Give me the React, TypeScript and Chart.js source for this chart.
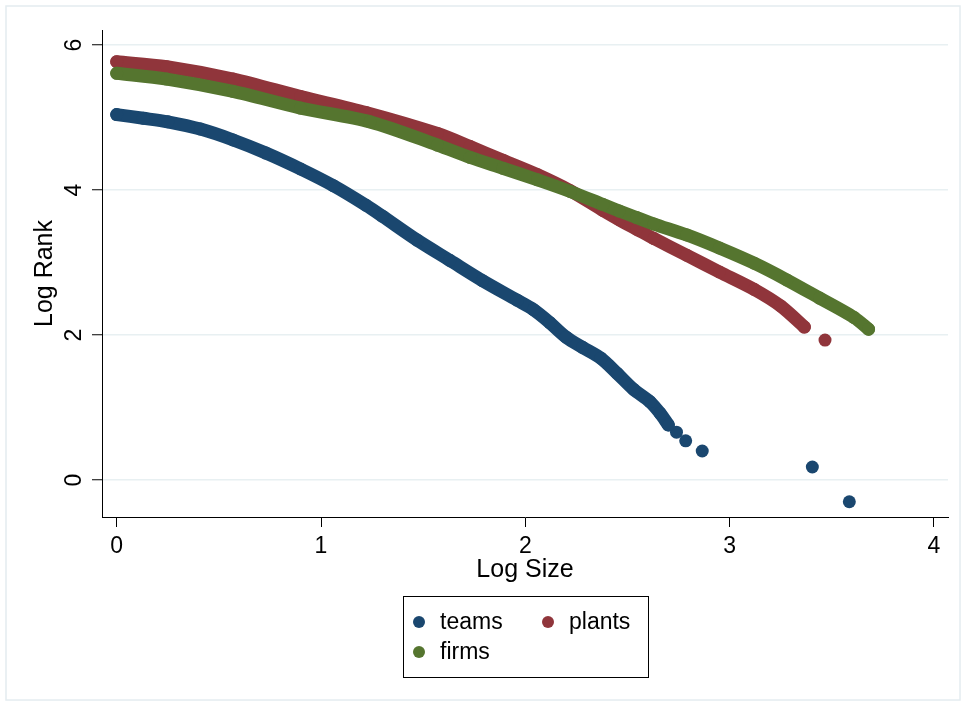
import React, { useEffect, useRef } from "react";
import { Chart, registerables } from "chart.js";

Chart.register(...registerables);

// ---- data ----
const xTicks = [0, 1, 2, 3, 4];
const yTicks = [0, 2, 4, 6];
const xTitle = "Log Size";
const yTitle = "Log Rank";

const seriesNames = ["teams", "plants", "firms"];
const seriesColors = ["#1a476f", "#90353b", "#55752f"];

const teamsX = [0.0, 0.13, 0.25, 0.41, 0.57, 0.73, 0.9, 1.06, 1.22, 1.3, 1.47, 1.63, 1.79, 1.96, 2.04, 2.12, 2.2, 2.28, 2.37, 2.45, 2.53, 2.61, 2.66, 2.7];
const teamsY = [5.04, 4.99, 4.94, 4.84, 4.69, 4.51, 4.29, 4.06, 3.79, 3.64, 3.31, 3.03, 2.75, 2.48, 2.35, 2.17, 1.97, 1.83, 1.68, 1.47, 1.25, 1.08, 0.92, 0.76];
const teamsTailX = [2.74, 2.785, 2.866, 3.405, 3.586];
const teamsTailY = [0.66, 0.54, 0.4, 0.18, -0.3];

const plantsX = [0.0, 0.245, 0.57, 0.9, 1.22, 1.57, 1.73, 1.89, 2.06, 2.22, 2.38, 2.46, 2.545, 2.63, 2.79, 2.95, 3.12, 3.25, 3.366];
const plantsY = [5.77, 5.7, 5.53, 5.29, 5.07, 4.78, 4.6, 4.41, 4.21, 3.99, 3.72, 3.59, 3.46, 3.33, 3.1, 2.87, 2.63, 2.4, 2.11];
const plantsTailX = [3.467];
const plantsTailY = [1.93];

const firmsX = [0.0, 0.245, 0.57, 0.9, 1.24, 1.57, 1.73, 1.89, 2.06, 2.22, 2.38, 2.46, 2.545, 2.63, 2.79, 2.95, 3.12, 3.28, 3.44, 3.61, 3.68];
const firmsY = [5.61, 5.53, 5.36, 5.13, 4.94, 4.62, 4.45, 4.3, 4.14, 3.98, 3.8, 3.71, 3.62, 3.53, 3.38, 3.2, 2.99, 2.76, 2.51, 2.24, 2.08];

const FONT = "'Liberation Sans', Arial, Helvetica, sans-serif";
const FSIZE = 23;
const TSIZE = 25;

function pts(xs: number[], ys: number[]) {
  return xs.map((x, i) => ({ x, y: ys[i] }));
}

function lineSet(label: string, color: string, xs: number[], ys: number[], order: number) {
  return {
    label,
    data: pts(xs, ys),
    showLine: true,
    borderColor: color,
    backgroundColor: color,
    borderWidth: 13,
    borderCapStyle: "round",
    borderJoinStyle: "round",
    tension: 0.3,
    pointRadius: 6.5,
    pointBorderWidth: 0,
    pointBackgroundColor: color,
    pointHoverRadius: 6.5,
    order,
  };
}

function dotSet(label: string, color: string, xs: number[], ys: number[], order: number) {
  return {
    label,
    data: pts(xs, ys),
    showLine: false,
    borderColor: color,
    backgroundColor: color,
    pointRadius: 6.5,
    pointBorderWidth: 0,
    pointBackgroundColor: color,
    order,
  };
}

const framePlugin = {
  id: "frameAndLegend",
  beforeDraw(chart: any) {
    const ctx = chart.ctx;
    ctx.save();
    ctx.fillStyle = "#ffffff";
    ctx.fillRect(0, 0, chart.width, chart.height);
    ctx.strokeStyle = "#e4ecf0";
    ctx.lineWidth = 1.5;
    ctx.strokeRect(6, 6, chart.width - 12, chart.height - 12);
    ctx.restore();
  },
  afterDraw(chart: any) {
    const ctx = chart.ctx;
    ctx.save();
    const bx = 403, by = 596, bw = 245, bh = 81;
    ctx.strokeStyle = "#000";
    ctx.lineWidth = 1;
    ctx.strokeRect(bx + 0.5, by + 0.5, bw, bh);
    const slots = [
      { mx: 419, my: 622 },
      { mx: 548, my: 622 },
      { mx: 419, my: 652 },
    ];
    ctx.font = `${FSIZE}px ${FONT}`;
    ctx.textBaseline = "middle";
    ctx.textAlign = "left";
    seriesNames.forEach((name, i) => {
      const s = slots[i];
      ctx.fillStyle = seriesColors[i];
      ctx.beginPath();
      ctx.arc(s.mx, s.my, 6, 0, Math.PI * 2);
      ctx.fill();
      ctx.fillStyle = "#000";
      ctx.fillText(name, s.mx + 21, s.my + 1);
    });
    ctx.restore();
  },
};

export default function App() {
  const ref = useRef<HTMLCanvasElement | null>(null);
  useEffect(() => {
    if (!ref.current) return;
    const font = { family: FONT, size: FSIZE };
    const tfont = { family: FONT, size: TSIZE };
    const chart = new Chart(ref.current, {
      type: "scatter",
      data: {
        datasets: [
          lineSet(seriesNames[0], seriesColors[0], teamsX, teamsY, 2),
          dotSet(seriesNames[0] + "_tail", seriesColors[0], teamsTailX, teamsTailY, 2),
          lineSet(seriesNames[1], seriesColors[1], plantsX, plantsY, 1),
          dotSet(seriesNames[1] + "_tail", seriesColors[1], plantsTailX, plantsTailY, 1),
          lineSet(seriesNames[2], seriesColors[2], firmsX, firmsY, 0),
        ] as any,
      },
      options: {
        animation: false,
        responsive: false,
        devicePixelRatio: 1,
        layout: { padding: { left: 0, right: 18, top: 30, bottom: 117 } },
        plugins: {
          legend: { display: false },
          tooltip: { enabled: false },
        },
        scales: {
          x: {
            type: "linear",
            min: -0.072,
            max: 4.069,
            afterBuildTicks: (s: any) => {
              s.ticks = xTicks.map((v) => ({ value: v }));
            },
            afterFit: (s: any) => {
              s.height = 72;
            },
            grid: {
              drawOnChartArea: false,
              drawTicks: true,
              tickLength: 10,
              tickColor: "#000",
              tickWidth: 1,
            },
            border: { display: true, color: "#000", width: 1 },
            ticks: {
              color: "#000",
              font,
              padding: 6,
              maxRotation: 0,
              minRotation: 0,
              autoSkip: false,
            },
            title: {
              display: true,
              text: xTitle,
              color: "#000",
              font: tfont,
              padding: { top: 0, bottom: 4 },
            },
          },
          y: {
            type: "linear",
            min: -0.51,
            max: 6.207,
            afterBuildTicks: (s: any) => {
              s.ticks = yTicks.map((v) => ({ value: v }));
            },
            afterFit: (s: any) => {
              s.width = 102;
            },
            grid: {
              color: "#e8f0f2",
              lineWidth: 1.5,
              drawTicks: true,
              tickLength: 10,
              tickColor: "#000",
              tickWidth: 1,
            },
            border: { display: true, color: "#000", width: 1 },
            ticks: {
              color: "#000",
              font,
              padding: 11,
              minRotation: 90,
              maxRotation: 90,
              crossAlign: "center",
              autoSkip: false,
            },
            title: {
              display: true,
              text: yTitle,
              color: "#000",
              font: tfont,
              padding: { top: 30, bottom: 0 },
            },
          },
        },
      } as any,
      plugins: [framePlugin],
    });
    return () => chart.destroy();
  }, []);
  return (
    <div style={{ position: "absolute", left: 0, top: 0, width: 966, height: 706 }}>
      <canvas ref={ref} width={966} height={706} />
    </div>
  );
}
